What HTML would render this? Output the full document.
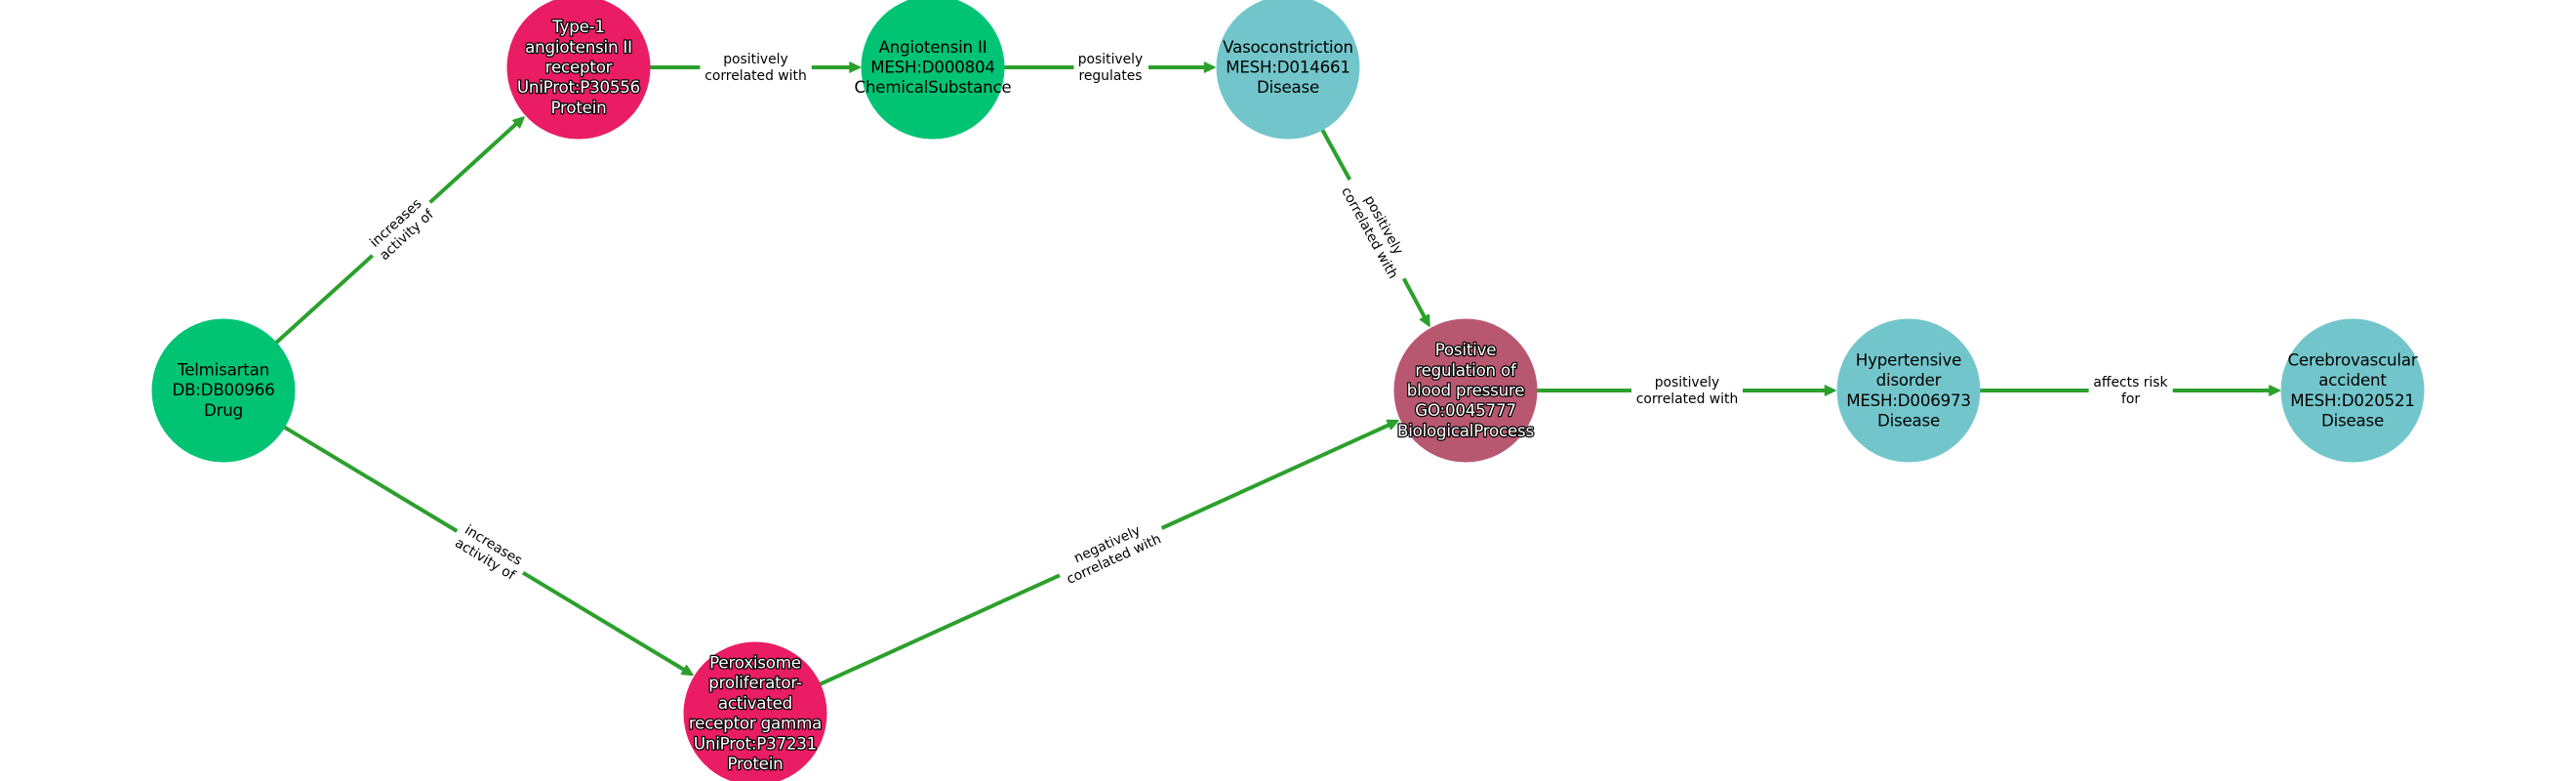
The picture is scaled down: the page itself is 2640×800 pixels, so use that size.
<!DOCTYPE html>
<html><head><meta charset="utf-8"><style>
html,body{margin:0;padding:0;background:#fff;width:2640px;height:800px;overflow:hidden}
svg{display:block}
text{font-family:"DejaVu Sans","Liberation Sans",sans-serif;text-anchor:middle}
.n{font-size:16.67px;letter-spacing:-0.2px;fill:#000}
.w{font-size:16.67px;letter-spacing:-0.2px;fill:#fff;stroke:#000;stroke-width:2.5px;paint-order:stroke;stroke-linejoin:round}
.e{font-size:13.89px;fill:#000}
.l{stroke:#2ca02c;stroke-width:4;fill:none}
.a{fill:#2ca02c;stroke:#2ca02c;stroke-width:1.5;stroke-linejoin:round}
</style></head><body>
<svg width="2640" height="800" viewBox="0 0 2640 800" xmlns="http://www.w3.org/2000/svg">
<rect width="2640" height="800" fill="#fff"/>
<!-- edges -->
<path class="l" d="M229 400L381.7 261.7M440.7 207.3L530 126"/>
<path class="l" d="M229 400L468.3 544M536 586.7L701 686"/>
<path class="l" d="M593 69H717.5M831.8 69H871"/>
<path class="l" d="M956 69H1100.5M1177 69H1235"/>
<path class="l" d="M1320 69L1383.3 184M1438.7 285.3L1460 325"/>
<path class="l" d="M774 731L1086 589.3M1190.7 541L1424 435"/>
<path class="l" d="M1502 400H1672M1786 400H1871"/>
<path class="l" d="M1956 400H2140.6M2226.7 400H2326"/>
<!-- nodes -->
<circle cx="229" cy="400" r="73.5" fill="#00c473"/>
<circle cx="593" cy="69" r="73.5" fill="#e91c64"/>
<circle cx="956" cy="69" r="73.5" fill="#00c473"/>
<circle cx="1320" cy="69" r="73.5" fill="#72c6cb"/>
<circle cx="1502" cy="400" r="73.5" fill="#b85870"/>
<circle cx="1956" cy="400" r="73.5" fill="#72c6cb"/>
<circle cx="2411" cy="400" r="73.5" fill="#72c6cb"/>
<circle cx="774" cy="731" r="73.5" fill="#e91c64"/>
<!-- arrowheads -->
<polygon class="a" points="0,0 -10.5,-5 -10.5,5" transform="translate(537,120) rotate(-42.3)"/>
<polygon class="a" points="0,0 -10.5,-5 -10.5,5" transform="translate(710,691.5) rotate(31.2)"/>
<polygon class="a" points="0,0 -10.5,-5 -10.5,5" transform="translate(881.5,69)"/>
<polygon class="a" points="0,0 -10.5,-5 -10.5,5" transform="translate(1245,69)"/>
<polygon class="a" points="0,0 -10.5,-5 -10.5,5" transform="translate(1465,334) rotate(61.2)"/>
<polygon class="a" points="0,0 -10.5,-5 -10.5,5" transform="translate(1433,430.7) rotate(-24.4)"/>
<polygon class="a" points="0,0 -10.5,-5 -10.5,5" transform="translate(1881,400)"/>
<polygon class="a" points="0,0 -10.5,-5 -10.5,5" transform="translate(2336.4,400)"/>
<!-- node labels -->
<text class="n" x="229" y="384.5">Telmisartan</text>
<text class="n" x="229" y="405.2">DB:DB00966</text>
<text class="n" x="229" y="425.9">Drug</text>
<text class="n" x="956" y="53.8">Angiotensin II</text>
<text class="n" x="956" y="74.5">MESH:D000804</text>
<text class="n" x="956" y="95.2">ChemicalSubstance</text>
<text class="n" x="1320" y="53.8">Vasoconstriction</text>
<text class="n" x="1320" y="74.5">MESH:D014661</text>
<text class="n" x="1320" y="95.2">Disease</text>
<text class="n" x="1956" y="374.5">Hypertensive</text>
<text class="n" x="1956" y="395.2">disorder</text>
<text class="n" x="1956" y="415.9">MESH:D006973</text>
<text class="n" x="1956" y="436.6">Disease</text>
<text class="n" x="2411" y="374.5">Cerebrovascular</text>
<text class="n" x="2411" y="395.2">accident</text>
<text class="n" x="2411" y="415.9">MESH:D020521</text>
<text class="n" x="2411" y="436.6">Disease</text>
<text class="w" x="593" y="33">Type-1</text>
<text class="w" x="593" y="53.8">angiotensin II</text>
<text class="w" x="593" y="74.5">receptor</text>
<text class="w" x="593" y="95.2">UniProt:P30556</text>
<text class="w" x="593" y="115.9">Protein</text>
<text class="w" x="1502" y="364">Positive</text>
<text class="w" x="1502" y="384.8">regulation of</text>
<text class="w" x="1502" y="405.5">blood pressure</text>
<text class="w" x="1502" y="426.2">GO:0045777</text>
<text class="w" x="1502" y="446.9">BiologicalProcess</text>
<text class="w" x="774" y="684.5">Peroxisome</text>
<text class="w" x="774" y="705.2">proliferator-</text>
<text class="w" x="774" y="725.9">activated</text>
<text class="w" x="774" y="746.6">receptor gamma</text>
<text class="w" x="774" y="767.3">UniProt:P37231</text>
<text class="w" x="774" y="788">Protein</text>
<!-- edge labels -->
<text class="e" x="774.5" y="65.2">positively</text><text class="e" x="774.5" y="81.8">correlated with</text>
<text class="e" x="1138" y="65.2">positively</text><text class="e" x="1138" y="81.8">regulates</text>
<text class="e" x="1729" y="396.2">positively</text><text class="e" x="1729" y="412.8">correlated with</text>
<text class="e" x="2183.5" y="396.2">affects risk</text><text class="e" x="2183.5" y="412.8">for</text>
<g transform="translate(411,234.5) rotate(-42.3)"><text class="e" y="-3.8">increases</text><text class="e" y="12.8">activity of</text></g>
<g transform="translate(501.5,565.5) rotate(31.2)"><text class="e" y="-3.8">increases</text><text class="e" y="12.8">activity of</text></g>
<g transform="translate(1138,565) rotate(-24.4)"><text class="e" y="-3.8">negatively</text><text class="e" y="12.8">correlated with</text></g>
<g transform="translate(1411,234.5) rotate(61.2)"><text class="e" y="-3.8">positively</text><text class="e" y="12.8">correlated with</text></g>
</svg>
</body></html>
